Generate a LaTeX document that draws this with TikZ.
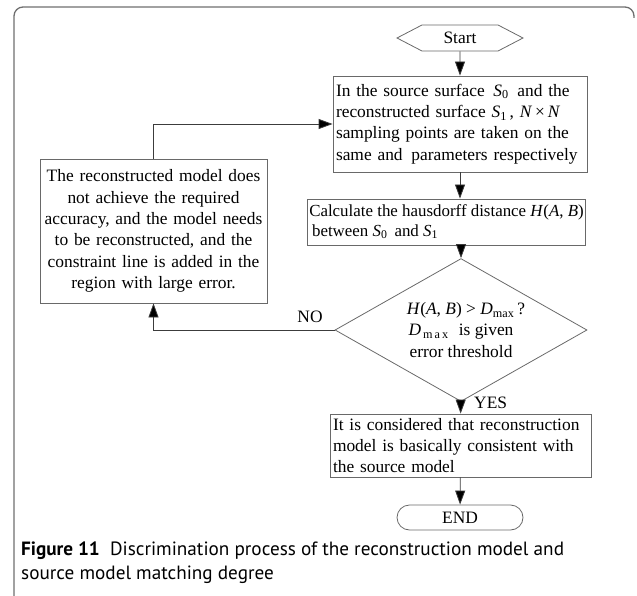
\documentclass[tikz,border=0pt]{standalone}
\usepackage{fontspec}
\setmainfont{Liberation Serif}
\newfontfamily\capfont{PT Sans}
\usetikzlibrary{arrows.meta,shapes.geometric,shapes.symbols,shapes.misc}

\definecolor{framegray}{RGB}{110,110,110}
\definecolor{boxgray}{RGB}{105,105,105}
\definecolor{linegray}{RGB}{60,60,60}

\newcommand{\sub}[2]{\textit{#1}\textsubscript{#2}}

\begin{document}
\begin{tikzpicture}[x=1pt,y=-1pt,
  font=\fontsize{17.4}{21.3}\selectfont,
  box/.style={draw=boxgray, line width=0.8pt, inner sep=3pt, align=left},
  cbox/.style={draw=boxgray, line width=0.8pt, inner sep=3pt, align=center},
  flow/.style={draw=linegray, line width=0.8pt,
    -{Triangle[length=14pt,width=10pt,fill=black]}},
  lbl/.style={inner sep=0pt}]

\useasboundingbox (0,0) rectangle (637,596);

% frame: top edge with rounded corners and left edge
\draw[framegray, line width=1.3pt, rounded corners=9pt]
  (14,600) -- (14,7) -- (634,7) -- (634,18);

% terminals
\node[draw=boxgray, line width=0.8pt, shape=signal, signal to=west and east,
      signal pointer angle=55, minimum width=126pt, minimum height=26pt,
      inner sep=0pt] (start) at (460,38) {Start};
\node[draw=boxgray, line width=0.8pt, shape=rounded rectangle,
      minimum width=126pt, minimum height=25pt, inner sep=0pt]
      (stop) at (460,517.5) {END};

% process boxes
\node[box, text width=248pt, minimum height=96pt] (sample) at (460,124)
  {In the source surface\, \sub{S}{0}\, and the\\
   reconstructed surface \sub{S}{1}\,, \textit{N}\,×\,\textit{N}\\
   sampling points are taken on the\\
   same and\, parameters respectively};

\node[box, minimum width=273pt, minimum height=46pt, inner sep=2pt,
      font=\fontsize{16.9}{19.5}\selectfont] (dist) at (446.5,222)
  {Calculate the hausdorff distance \textit{H}(\textit{A}, \textit{B})\\
   \,between \sub{S}{0}\, and \sub{S}{1}};

\node[diamond, draw=boxgray, line width=0.8pt, minimum width=252pt,
      minimum height=113pt, inner sep=-10pt, align=center] (check) at (461,330)
  {\hspace*{10pt}\textit{H}(\textit{A}, \textit{B}) > \sub{D}{max}\,?\\
   \sub{D}{\,m\,a\,x}\,\, is given\hspace*{48pt}\\
   error threshold};

\node[box, text width=255pt, minimum height=63pt] (accept) at (460.5,445.5)
  {It is considered that reconstruction\\
   model is basically consistent with\\
   the source model};

\node[cbox, text width=221pt, minimum height=144pt] (rebuild) at (153.5,231)
  {The reconstructed model does\\
   not achieve the required\\
   accuracy, and the model needs\\
   to be reconstructed, and the\\
   constraint line is added in the\\
   region with large error.};

% main flow
\draw[flow] (start) -- (sample);
\draw[flow] (sample.south) -- (sample.south |- dist.north);
\draw[flow] (check.north |- dist.south) -- (check.north);
\draw[flow] (check) -- (accept);
\draw[flow] (accept) -- (stop);

% loop back
\draw[flow] (check.west) -| (rebuild.south);
\draw[flow] (rebuild.north) |- (sample.west);

\node[lbl] (no) at (310,317) {NO};
\node[lbl, anchor=west] (yes) at (474,403) {YES};

% caption
\node[anchor=north west, inner sep=0pt, align=left,
      font=\capfont\fontsize{19.2}{23.5}\selectfont] (caption) at (21,542)
  {\textbf{Figure 11}\ \ Discrimination process of the reconstruction model and\\
   source model matching degree};

\end{tikzpicture}
\end{document}
